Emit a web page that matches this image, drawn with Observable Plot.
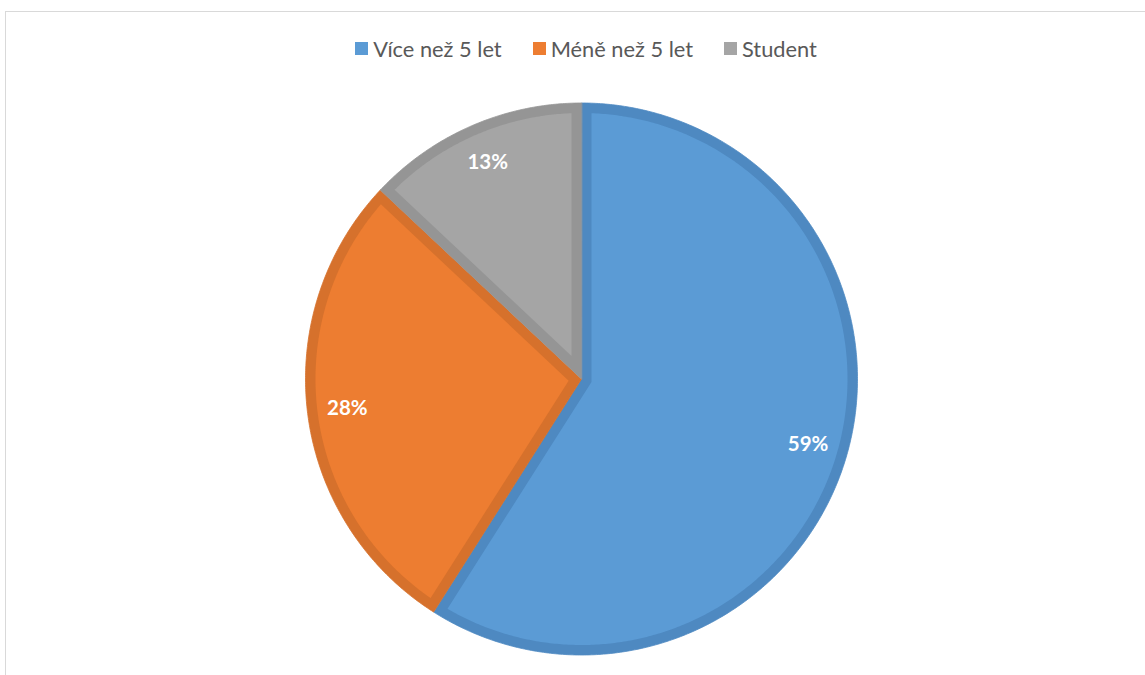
<!DOCTYPE html>
<html>
<head>
<meta charset="utf-8">
<script src="https://cdn.jsdelivr.net/npm/d3@7"></script>
<script src="https://cdn.jsdelivr.net/npm/@observablehq/plot@0.6"></script>
<style>
  html, body { margin: 0; padding: 0; background: #fff; }
  #wrap { position: relative; width: 1145px; height: 675px; overflow: hidden; }
  #frame { position: absolute; left: 5px; top: 11px; width: 1300px; height: 800px; border: 1.5px solid #d9d9d9; box-sizing: border-box; }
  #chart { position: absolute; left: 0; top: 0; }
  #legend { position: absolute; left: 0; width: 1172px; top: 35px; display: flex; justify-content: center; align-items: center; font-family: Lato, "Open Sans", sans-serif; font-size: 21.8px; color: #595959; }
  .item { display: flex; align-items: center; margin: 0 15.5px; }
  .sw { width: 13px; height: 13px; margin-right: 5px; }
</style>
</head>
<body>
<div id="wrap">
  <div id="frame"></div>
  <div id="chart"></div>
  <div id="legend"></div>
</div>
<script>
const categories = ["Více než 5 let", "Méně než 5 let", "Student"];
const values = [59, 28, 13];
const labels = ["59%", "28%", "13%"];
const fills = ["#5B9BD5", "#ED7D31", "#A5A5A5"];
const borders = ["#4E89C1", "#D6712C", "#959595"];

const arcs = d3.pie().sort(null).value(d => d)(values);
const inset = 10 / 276;
const labelRadius = 0.855;

function wedge(a0, a1, ins) {
  const pts = [];
  const r = 1 - ins;
  const theta = a1 - a0;
  const mid = (a0 + a1) / 2;
  const vd = ins > 0 ? ins / Math.sin(theta / 2) : 0;
  pts.push({x: vd * Math.sin(mid), y: vd * Math.cos(mid)});
  const delta = ins > 0 ? Math.asin(ins / r) : 0;
  const b0 = a0 + delta, b1 = a1 - delta;
  const n = Math.max(2, Math.ceil((b1 - b0) / (Math.PI / 360)));
  for (let i = 0; i <= n; i++) {
    const a = b0 + (b1 - b0) * i / n;
    pts.push({x: r * Math.sin(a), y: r * Math.cos(a)});
  }
  return pts;
}

const marks = [];
arcs.forEach((a, i) => {
  marks.push(Plot.line(wedge(a.startAngle, a.endAngle, 0), {
    x: "x", y: "y", fill: borders[i], stroke: borders[i], strokeWidth: 0.8, curve: "linear-closed"
  }));
});
arcs.forEach((a, i) => {
  marks.push(Plot.line(wedge(a.startAngle, a.endAngle, inset), {
    x: "x", y: "y", fill: fills[i], stroke: "none", curve: "linear-closed"
  }));
});
const labelData = arcs.map((a, i) => {
  const m = (a.startAngle + a.endAngle) / 2;
  return {x: labelRadius * Math.sin(m), y: labelRadius * Math.cos(m), text: labels[i]};
});
marks.push(Plot.text(labelData, {
  x: "x", y: "y", text: "text", fill: "white", fontWeight: "bold", fontSize: 20.5,
  fontFamily: "Lato, 'Open Sans', sans-serif"
}));

const cx = 581, cy = 378.5, R = 276;
const chart = Plot.plot({
  width: 1145,
  height: 675,
  margin: 0,
  x: {domain: [-1, 1], range: [cx - R, cx + R], axis: null},
  y: {domain: [-1, 1], range: [cy + R, cy - R], axis: null},
  style: {background: "transparent", overflow: "visible"},
  marks
});
document.getElementById("chart").appendChild(chart);

const legend = document.getElementById("legend");
categories.forEach((c, i) => {
  const it = document.createElement("div");
  it.className = "item";
  const sw = document.createElement("div");
  sw.className = "sw";
  sw.style.background = fills[i];
  const t = document.createElement("span");
  t.textContent = c;
  it.appendChild(sw);
  it.appendChild(t);
  legend.appendChild(it);
});
</script>
</body>
</html>
